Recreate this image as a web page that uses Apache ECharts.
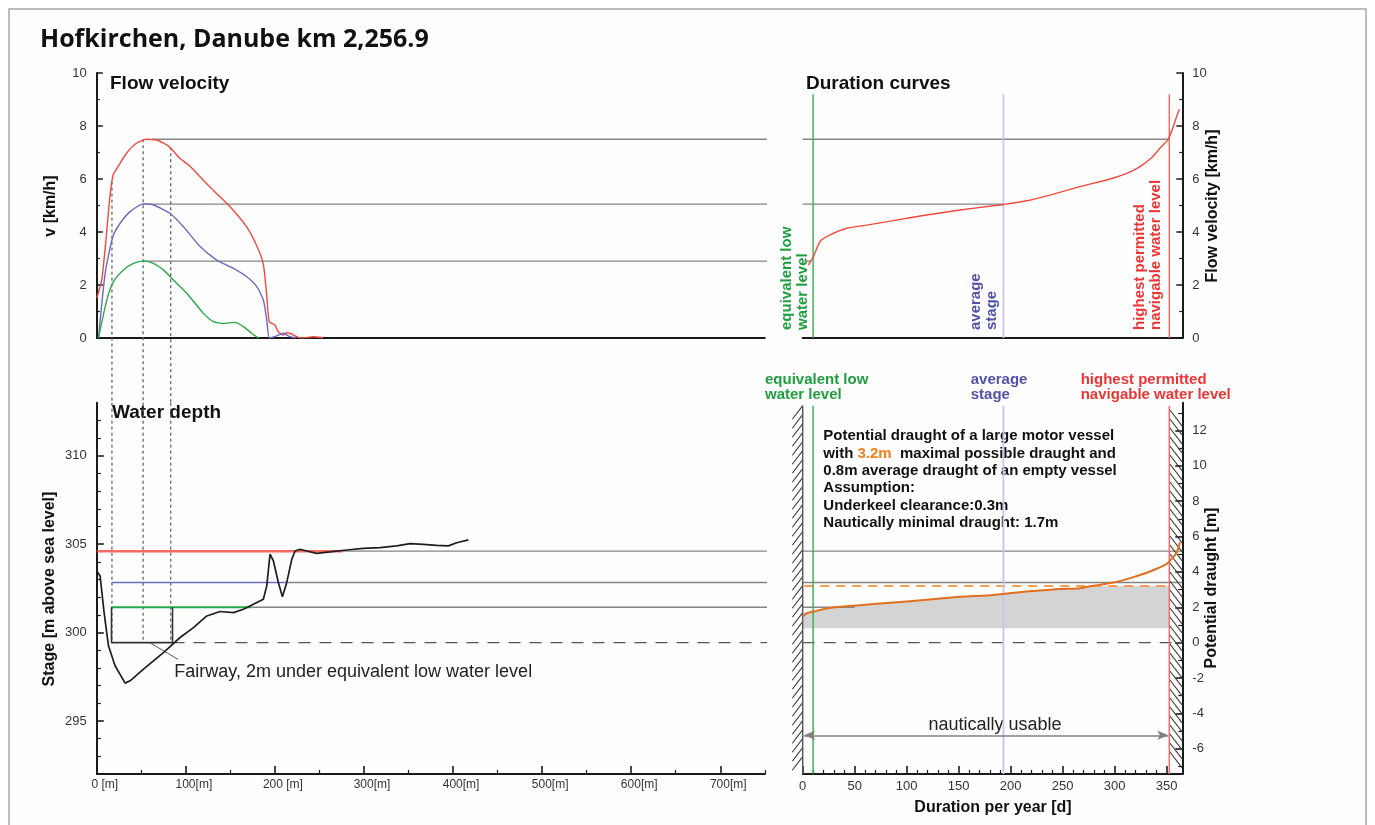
<!DOCTYPE html>
<html><head><meta charset="utf-8">
<script src="https://cdn.jsdelivr.net/npm/echarts@6/dist/echarts.min.js"></script>
<style>html,body{margin:0;padding:0;background:#fff}#c{width:1375px;height:825px}</style>
</head><body><div id="c"></div>
<script>
// ---------------- DATA ----------------
// Flow velocity across the river [distance m, velocity km/h]
const velocityHSW = [[0,1.5],[5.6,2.2],[10,3.6],[14.6,5.3],[18.3,6.15],[23.9,6.47],[33.3,6.97],[44.5,7.35],[55.7,7.5],[67,7.47],[75,7.35],[82,7.2],[93.2,6.78],[104.5,6.49],[115.7,6.09],[130.7,5.58],[149.4,4.96],[168.1,4.2],[179.3,3.5],[186.8,2.82],[190.6,1.69],[193.6,0.62],[200,0.49],[203.7,0.24],[209.3,0.11],[213,0.2],[218.7,0.15],[224.3,0.05],[230,0],[243,0.05],[254,0.01]];
const velocityMW = [[1.9,0],[9.4,2.44],[18,3.82],[26.2,4.33],[37.4,4.77],[52.4,5.06],[63.6,5.02],[82.3,4.7],[97.3,4.2],[116,3.45],[134.7,2.94],[153.4,2.63],[168.4,2.31],[179.6,1.94],[187,1.43],[190.8,0.68],[193.8,0],[202,0.08],[209.3,0.18],[216.8,0.05],[224,0]];
const velocityELW = [[1.9,0],[11.2,1.43],[18.7,2.13],[29.9,2.57],[41.1,2.82],[52.4,2.9],[63.6,2.82],[74.8,2.57],[86,2.19],[101,1.69],[119.7,0.93],[130.9,0.62],[142.1,0.55],[155.2,0.59],[164.6,0.43],[173.9,0.18],[181.4,0]];
// Duration curve of flow velocity [days, km/h]
const durationVelocity = [[5.5,2.75],[10.3,3.07],[16.7,3.64],[26.3,3.89],[42.4,4.14],[61.6,4.26],[87.2,4.43],[119.2,4.64],[151.3,4.83],[183.3,4.99],[193,5.04],[215.4,5.18],[241.1,5.43],[266.6,5.71],[295.5,6.0],[311.5,6.21],[324.3,6.47],[335.5,6.8],[343.5,7.16],[351.5,7.5],[356.3,7.97],[359.5,8.35],[362.2,8.63]];
// River bed profile [distance m, stage m a.s.l.]
const bedProfile = [[0,303.48],[3.7,303.2],[8.2,301.13],[13.1,299.25],[20.5,298.12],[31.8,297.14],[37.4,297.27],[52.4,297.93],[74.8,298.87],[93.5,299.72],[108.5,300.28],[123.5,300.94],[138.4,301.19],[153.4,301.13],[164.6,301.32],[175.8,301.6],[187,301.88],[190.8,302.64],[194.5,304.43],[198.3,304.05],[203.9,302.82],[208.4,302.03],[213.2,302.82],[218.9,304.14],[222.6,304.61],[228.2,304.71],[235.7,304.61],[246.9,304.48],[261.9,304.56],[280.6,304.67],[299.3,304.76],[318,304.8],[336.7,304.9],[351.7,305.03],[366.7,304.99],[381.6,304.93],[394.7,304.9],[404.1,305.08],[417.2,305.24]];
// Duration curve of potential draught [days, m]
const durationDraught = [[0.6,1.51],[3.8,1.66],[11.8,1.78],[23,1.93],[39,2.04],[55,2.12],[87.1,2.27],[119.1,2.42],[151.2,2.59],[183.2,2.7],[215.3,2.89],[247.3,3.03],[266.6,3.08],[279.4,3.22],[298.7,3.4],[315,3.65],[330.8,3.95],[342,4.22],[349.8,4.45],[355,4.75],[359.6,5.1],[362.8,5.67]];
// Characteristic water levels: equivalent low, average, highest navigable
const levelNames = ['equivalent low\nwater level', 'average\nstage', 'highest permitted\nnavigable water level'];
const levelStages = [301.43, 302.83, 304.6];
const levelDays = [10, 193, 352.5];
const levelPeakVelocity = [2.9, 5.05, 7.5];
const peakVelocityStart = [52, 52, 62];
const peakVelocityEnd = [8, 193, 351.5];
const levelStageStart = [16.5, 16.5, 0];
const levelStageEnd = [174, 213, 276];
const draughtLevelEnd = [50, 365, 365];
const fairwayBelowELW = 2;
const fairwayEdges = [16.5, 85];
const dottedX = [17, 52, 83];
const dottedTop = [5.9, 7.5, 7.2];
const maxDraught = 3.2, emptyDraught = 0.82;
const distanceTicks = [0,100,200,300,400,500,600,700];
const distanceLabels = ['0 [m]','100[m]','200 [m]','300[m]','400[m]','500[m]','600[m]','700[m]'];
const stageTicks = [295,300,305,310];
const dayTicks = [0,50,100,150,200,250,300,350];
const draughtTicks = [-6,-4,-2,0,2,4,6,8,10,12];

// ---------------- DERIVED ----------------
const fairwayStage = levelStages[0] - fairwayBelowELW;
const stageMin = 292, stageMax = 313;
const draughtMin = stageMin - fairwayStage, draughtMax = stageMax - fairwayStage;
const levelDraught = levelStages.map(s => +(s - fairwayStage).toFixed(2));
const colors = ['#2aa84a', '#6a6ac0', '#f04a3e'];
const lineColors = ['#2eb04e', '#c6c6ec', '#f06868'];
const textColors = ['#1f9e3e', '#5252a8', '#ee3535'];
const GAP_M = 800;          // extends lines across gap between panels (clip:false)
const GAP_V = -2.45;        // velocity value reaching the lower panel top

const FONT = "'Liberation Sans', Arial, sans-serif";
const minorStage = []; for (let v = stageMin + 1; v < stageMax; v++) if (v % 5) minorStage.push(v);
const minorDist = distanceTicks.map(v => v + 50);
const minorDay = []; for (let v = 10; v < 350; v += 10) if (v % 50) minorDay.push(v);
const minorDraught = draughtTicks.map(v => v - 1).concat([13]);

// ---------------- HELPERS ----------------
function seg(xi, yi, data, color, width, extra) {
  return Object.assign({type:'line', xAxisIndex:xi, yAxisIndex:yi, data, symbol:'none', silent:true,
    animation:false, lineStyle:{color, width}, z:2}, extra || {});
}
const axLine = {show:true, onZero:false, lineStyle:{color:'#1a1a1a', width:2}};
const lbl = {fontSize:13, color:'#333', fontFamily:FONT, margin:10};
function minorAxis(grid, pos, min, max, vals, len) {
  return {gridIndex:grid, type:'value', position:pos, min, max,
    axisLine:{show:false, onZero:false}, axisLabel:{show:false}, splitLine:{show:false},
    axisTick:{show:true, inside:true, length:len, customValues:vals, lineStyle:{color:'#1a1a1a', width:1.2}}};
}

const series = [];
// --- top-left: flow velocity
levelPeakVelocity.forEach((v,i) => series.push(seg(0,0,[[peakVelocityStart[i],v],[GAP_M,v]],'#858585',1.3,{clip:false,z:1})));
dottedX.forEach((x,i) => series.push(seg(0,0,[[x,dottedTop[i]],[x,GAP_V]],'#666',1.3,{clip:false,z:1,lineStyle:{color:'#666',width:1.3,type:[3,3]}})));
series.push(seg(0,0,velocityHSW,colors[2],1.4,{smooth:0.2}));
series.push(seg(0,0,velocityMW,colors[1],1.4,{smooth:0.2}));
series.push(seg(0,0,velocityELW,colors[0],1.4,{smooth:0.2}));
// --- top-right: duration curve of velocity
levelPeakVelocity.forEach((v,i) => series.push(seg(1,1,[[0,v],[peakVelocityEnd[i],v]],'#858585',1.3,{z:1})));
levelDays.forEach((d,i) => series.push(seg(1,1,[[d,0],[d,9.2]],lineColors[i],i===1?1.8:1.4,{z:1})));
series.push(seg(1,1,durationVelocity,colors[2],1.4,{smooth:0.2}));
// --- bottom-left: water depth
levelStages.forEach((s,i) => series.push(seg(2,2,[[levelStageEnd[i],s],[GAP_M,s]],'#858585',1.3,{clip:false,z:1})));
levelStages.forEach((s,i) => series.push(seg(2,2,[[levelStageStart[i],s],[levelStageEnd[i],s]],i===2?'rgba(240,80,70,0.85)':colors[i],i===2?2.6:(i===0?2:1.3),{z:3})));
series.push(seg(2,2,[[fairwayEdges[0],levelStages[0]],[fairwayEdges[0],fairwayStage],[fairwayEdges[1],fairwayStage],[fairwayEdges[1],levelStages[0]]],'#333',1.6,{z:3}));
dottedX.forEach(x => series.push(seg(2,2,[[x,stageMax],[x,fairwayStage]],'#666',1.3,{z:1,lineStyle:{color:'#666',width:1.3,type:[3,3]}})));
series.push(seg(2,2,[[fairwayEdges[1],fairwayStage],[GAP_M,fairwayStage]],'#555',1.4,{clip:false,z:1,lineStyle:{color:'#555',width:1.4,type:[12,9]}}));
series.push(seg(2,2,[[59.5,fairwayStage],[91,298.49]],'#555',1,{z:1}));
series.push(seg(2,2,bedProfile,'#1e1e1e',1.7,{z:4}));
// --- bottom-right: potential draught
const fillTop = durationDraught.filter(p => p[0] < levelDays[2]).map(p => [p[0], Math.min(p[1], maxDraught)]);
const fillPoly = fillTop.concat([[levelDays[2], maxDraught],[levelDays[2], emptyDraught],[fillTop[0][0], emptyDraught]]);
series.push({type:'custom', xAxisIndex:4, yAxisIndex:4, silent:true, animation:false, z:0, clip:false,
  data:[[fillPoly[0][0], fillPoly[0][1]]], encode:{x:0,y:1},
  renderItem:(p, api) => ({type:'polygon', shape:{points:fillPoly.map(q => api.coord(q))}, style:{fill:'#d4d4d4'}})});
levelDraught.forEach((d,i) => series.push(seg(4,4,[[0,d],[draughtLevelEnd[i],d]],'#858585',1.3,{z:1})));
series.push(seg(4,4,[[0,0],[365,0]],'#555',1.4,{z:1,lineStyle:{color:'#555',width:1.4,type:[12,9]}}));
series.push(seg(4,4,[[1.5,maxDraught],[levelDays[2],maxDraught]],'#f5a050',2,{z:2,lineStyle:{color:'#f5a050',width:2,type:[9,7]}}));
levelDays.forEach((d,i) => series.push(seg(4,4,[[d,draughtMin],[d,13.4]],lineColors[i],i===1?1.8:1.4,{z:3})));
series.push(seg(4,4,[[0,draughtMin],[0,13.4]],'#555',1.4,{z:3}));
// hatched walls: [x0, x1, yBottom, yTop, direction]
const hatchWalls = [[-10, 0, draughtMin, 13.4, 1], [levelDays[2], 365, draughtMin, 13.2, -1]];
series.push({type:'custom', xAxisIndex:4, yAxisIndex:4, silent:true, animation:false, z:3, clip:false,
  data:hatchWalls, encode:{x:[0,1], y:[2,3]},
  renderItem:(p, api) => {
    const a = api.coord([api.value(0), api.value(3)]), b = api.coord([api.value(1), api.value(2)]);
    const dir = api.value(4), l = a[0], r = b[0], t = a[1], bt = b[1], h = (r - l) * 1.3, ch = [];
    for (let y = t; y + h <= bt + 0.5; y += 9)
      ch.push({type:'line', shape: dir > 0 ? {x1:l, y1:y+h, x2:r, y2:y} : {x1:l, y1:y, x2:r, y2:y+h},
        style:{stroke:'#3a3a3a', lineWidth:1.1}});
    return {type:'group', children:ch};
  }});
series.push(seg(4,4,durationDraught,'#e07020',2,{z:4,smooth:0.2}));
series.push({type:'line', xAxisIndex:4, yAxisIndex:4, data:[], silent:true, animation:false,
  markLine:{silent:true, animation:false, symbol:['arrow','arrow'], symbolSize:[7,11], label:{show:false},
    lineStyle:{color:'#808080', width:1.5, type:'solid'},
    data:[[{coord:[1.5,-5.24]},{coord:[levelDays[2]-1,-5.24]}]]}});

const option = {
  backgroundColor:'#ffffff',
  animation:false,
  grid:[
    {left:96.8, top:73, width:668, height:265},
    {left:802.7, top:73, width:379.6, height:265},
    {left:96.8, top:402.7, width:668, height:371.3},
    {left:802.7, top:402.7, width:379.6, height:371.3}
  ],
  xAxis:[
    {gridIndex:0, type:'value', position:'bottom', min:0, max:750, axisLine:axLine, axisTick:{show:false}, axisLabel:{show:false}, splitLine:{show:false}},
    {gridIndex:1, type:'value', position:'bottom', min:0, max:365, axisLine:axLine, axisTick:{show:false}, axisLabel:{show:false}, splitLine:{show:false}},
    {gridIndex:2, type:'value', position:'bottom', min:0, max:750, axisLine:axLine,
      axisTick:{show:true, inside:true, length:8, customValues:distanceTicks, lineStyle:{color:'#1a1a1a', width:1.6}},
      axisLabel:{customValues:distanceTicks, formatter:v => distanceLabels[Math.round(v/100)] || '', fontSize:12, color:'#333',
        fontFamily:"'Liberation Sans Narrow', 'Liberation Sans', Arial, sans-serif", margin:5, padding:[0,0,0,16]}, splitLine:{show:false}},
    minorAxis(2, 'bottom', 0, 750, minorDist, 4),
    {gridIndex:3, type:'value', position:'bottom', min:0, max:365, axisLine:axLine,
      axisTick:{show:true, inside:true, length:8, customValues:dayTicks, lineStyle:{color:'#1a1a1a', width:1.6}},
      axisLabel:Object.assign({}, lbl, {customValues:dayTicks, margin:6}), splitLine:{show:false}},
    minorAxis(3, 'bottom', 0, 365, minorDay, 4)
  ],
  yAxis:[
    {gridIndex:0, type:'value', position:'left', min:0, max:10, interval:2, axisLine:axLine,
      axisTick:{show:true, inside:true, length:6, lineStyle:{color:'#1a1a1a', width:1.5}},
      minorTick:{show:true, splitNumber:2, length:3, lineStyle:{color:'#1a1a1a', width:1.2}},
      axisLabel:lbl, splitLine:{show:false}, minorSplitLine:{show:false}},
    {gridIndex:1, type:'value', position:'right', min:0, max:10, interval:2, axisLine:axLine,
      axisTick:{show:true, inside:true, length:6, lineStyle:{color:'#1a1a1a', width:1.5}},
      minorTick:{show:true, splitNumber:2, length:3, lineStyle:{color:'#1a1a1a', width:1.2}},
      axisLabel:lbl, splitLine:{show:false}, minorSplitLine:{show:false}},
    {gridIndex:2, type:'value', position:'left', min:stageMin, max:stageMax, axisLine:axLine,
      axisTick:{show:true, inside:true, length:7, customValues:stageTicks, lineStyle:{color:'#1a1a1a', width:1.6}},
      axisLabel:Object.assign({}, lbl, {customValues:stageTicks}), splitLine:{show:false}},
    minorAxis(2, 'left', stageMin, stageMax, minorStage, 4),
    {gridIndex:3, type:'value', position:'right', min:draughtMin, max:draughtMax, axisLine:axLine,
      axisTick:{show:true, inside:true, length:7, customValues:draughtTicks, lineStyle:{color:'#1a1a1a', width:1.6}},
      axisLabel:Object.assign({}, lbl, {customValues:draughtTicks}), splitLine:{show:false}},
    minorAxis(3, 'right', draughtMin, draughtMax, minorDraught, 4)
  ],
  series,
  graphic:[
    {type:'rect', silent:true, z:-10, shape:{x:9, y:9, width:1357, height:830}, style:{fill:'#fefefe', stroke:'#a8a8a8', lineWidth:1.5}},
    {type:'text', x:40, y:40, style:{text:'Hofkirchen, Danube km 2,256.9', font:"bold 25px 'Open Sans', sans-serif", fill:'#111', textVerticalAlign:'middle'}},
    {type:'text', x:110, y:84, style:{text:'Flow velocity', font:`bold 19px ${FONT}`, fill:'#111', textVerticalAlign:'middle'}},
    {type:'text', x:806, y:84, style:{text:'Duration curves', font:`bold 19px ${FONT}`, fill:'#111', textVerticalAlign:'middle'}},
    {type:'text', x:112, y:413, style:{text:'Water depth', font:`bold 19px ${FONT}`, fill:'#111', textVerticalAlign:'middle'}},
    {type:'text', x:51, y:206, rotation:Math.PI/2, style:{text:'v [km/h]', font:`bold 16px ${FONT}`, fill:'#111', textAlign:'center', textVerticalAlign:'middle'}},
    {type:'text', x:1213, y:206, rotation:Math.PI/2, style:{text:'Flow velocity [km/h]', font:`bold 16px ${FONT}`, fill:'#111', textAlign:'center', textVerticalAlign:'middle'}},
    {type:'text', x:50, y:589, rotation:Math.PI/2, style:{text:'Stage [m above sea level]', font:`bold 16px ${FONT}`, fill:'#111', textAlign:'center', textVerticalAlign:'middle'}},
    {type:'text', x:1212, y:588, rotation:Math.PI/2, style:{text:'Potential draught [m]', font:`bold 16px ${FONT}`, fill:'#111', textAlign:'center', textVerticalAlign:'middle'}},
    {type:'text', x:993, y:808, style:{text:'Duration per year [d]', font:`bold 16px ${FONT}`, fill:'#111', textAlign:'center', textVerticalAlign:'middle'}},
    // rotated labels in the duration panel
    ...[795, 984, 1148].map((x,i) => ({type:'text', x, y:330, rotation:Math.PI/2,
      style:{text:levelNames[i], font:`bold 15px ${FONT}`, lineHeight:16, fill:textColors[i], textAlign:'left', textVerticalAlign:'middle'}})),
    // labels above draught panel
    ...[765, 970.7, 1080.7].map((x,i) => ({type:'text', x, y:387.5,
      style:{text:levelNames[i], font:`bold 15px ${FONT}`, lineHeight:15, fill:textColors[i], textAlign:'left', textVerticalAlign:'middle'}})),
    {type:'text', x:823.3, y:479.5, style:{
      text:'{b|Potential draught of a large motor vessel}\n{b|with }{o|' + maxDraught + 'm}{b|  maximal possible draught and}\n{b|' + emptyDraught.toFixed(1) + 'm average draught of an empty vessel}\n{b|Assumption:}\n{b|Underkeel clearance:0.3m}\n{b|Nautically minimal draught: 1.7m}',
      textVerticalAlign:'middle', textAlign:'left', lineHeight:17.3,
      rich:{b:{fontFamily:FONT, fontWeight:'bold', fontSize:15, fill:'#111', color:'#111', lineHeight:17.3},
            o:{fontFamily:FONT, fontWeight:'bold', fontSize:15, fill:'#f0801e', color:'#f0801e', lineHeight:17.3}}}},
    {type:'text', x:174.3, y:672, style:{text:'Fairway, 2m under equivalent low water level', font:`18px ${FONT}`, fill:'#222', textVerticalAlign:'middle'}},
    {type:'text', x:995, y:725, style:{text:'nautically usable', font:`18px ${FONT}`, fill:'#222', textAlign:'center', textVerticalAlign:'middle'}}
  ]
};
const chart = echarts.init(document.getElementById('c'));
chart.setOption(option);
</script>
</body></html>
